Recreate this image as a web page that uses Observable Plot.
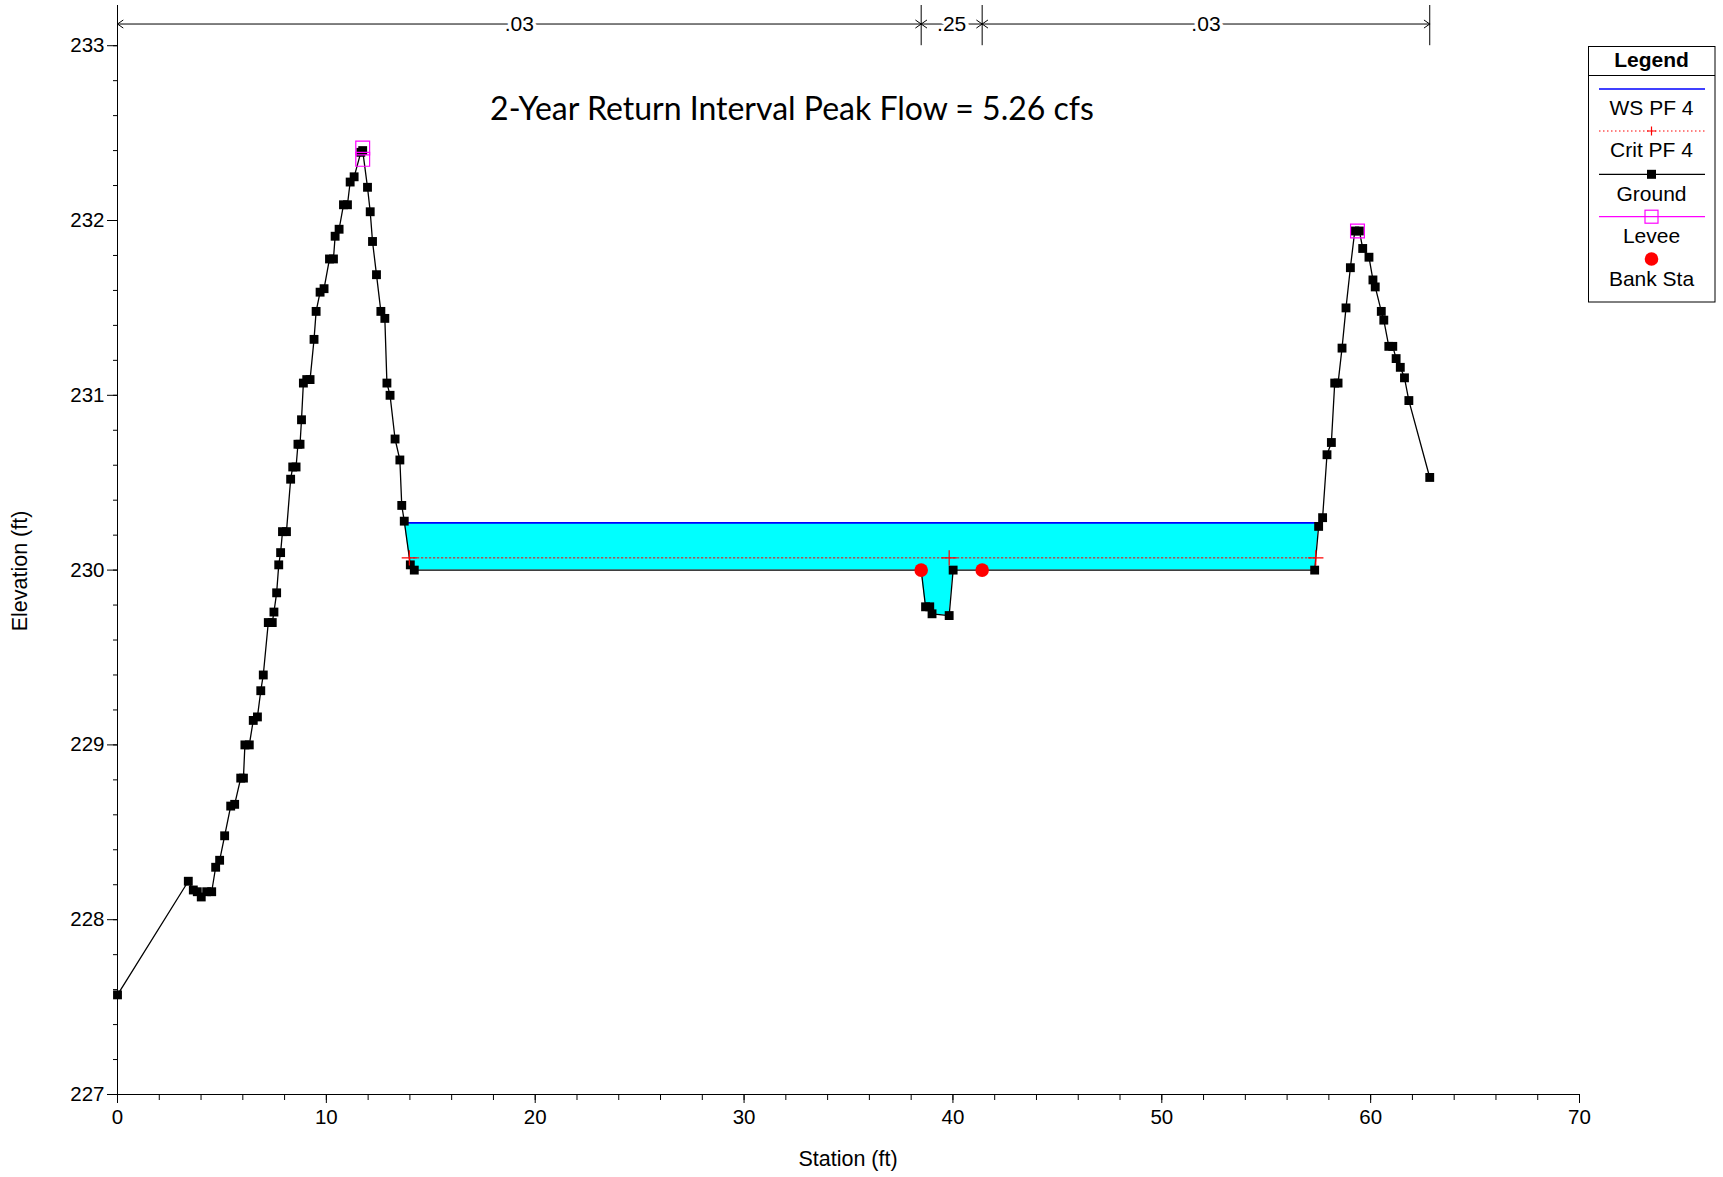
<!DOCTYPE html>
<html><head><meta charset="utf-8">
<script src="https://cdn.jsdelivr.net/npm/d3@7"></script>
<script src="https://cdn.jsdelivr.net/npm/@observablehq/plot@0.6"></script>
<style>
body{margin:0;background:#fff;}
#wrap{position:relative;width:1723px;height:1177px;font-family:"Liberation Sans",Arial,sans-serif;color:#000;overflow:hidden;}
#wrap svg{display:block;}
.abs{position:absolute;white-space:nowrap;}
#title{font-family:Lato,"Open Sans",sans-serif;font-size:32px;left:792px;top:107px;transform:translate(-50%,-50%);}
#xlab{font-size:21.5px;left:848px;top:1159px;transform:translate(-50%,-50%);}
#ylab{font-size:21.5px;left:20px;top:571px;transform:translate(-50%,-50%) rotate(-90deg);}
#legend{left:1588px;top:46px;}
</style></head><body><div id="wrap">
<div id="plot"></div>
<div class="abs" id="title">2-Year Return Interval Peak Flow = 5.26 cfs</div>
<div class="abs" id="xlab">Station (ft)</div>
<div class="abs" id="ylab">Elevation (ft)</div>
<div class="abs" id="legend"></div>
</div>
<script>
// ---- data ----
const groundStation = [0.00, 3.39, 3.63, 3.82, 4.01, 4.27, 4.51, 4.70, 4.89, 5.13, 5.42, 5.61, 5.90, 6.03, 6.10, 6.31, 6.50, 6.70, 6.86, 6.98, 7.22, 7.41, 7.49, 7.62, 7.72, 7.81, 7.90, 8.09, 8.29, 8.39, 8.55, 8.64, 8.74, 8.81, 8.90, 9.06, 9.22, 9.41, 9.51, 9.70, 9.89, 10.15, 10.34, 10.42, 10.61, 10.82, 11.01, 11.14, 11.33, 11.65, 11.74, 11.97, 12.10, 12.21, 12.40, 12.61, 12.80, 12.90, 13.05, 13.29, 13.52, 13.61, 13.73, 14.02, 14.21, 38.48, 38.69, 38.89, 39.00, 39.82, 40.01, 57.32, 57.51, 57.70, 57.91, 58.12, 58.28, 58.44, 58.63, 58.82, 59.03, 59.24, 59.46, 59.62, 59.92, 60.11, 60.22, 60.51, 60.63, 60.87, 61.06, 61.22, 61.42, 61.62, 61.83, 62.83];
const groundElev = [227.57, 228.22, 228.17, 228.16, 228.13, 228.16, 228.16, 228.30, 228.34, 228.48, 228.65, 228.66, 228.81, 228.81, 229.00, 229.00, 229.14, 229.16, 229.31, 229.40, 229.70, 229.70, 229.76, 229.87, 230.03, 230.10, 230.22, 230.22, 230.52, 230.59, 230.59, 230.72, 230.72, 230.86, 231.07, 231.09, 231.09, 231.32, 231.48, 231.59, 231.61, 231.78, 231.78, 231.91, 231.95, 232.09, 232.09, 232.22, 232.25, 232.39, 232.40, 232.19, 232.05, 231.88, 231.69, 231.48, 231.44, 231.07, 231.00, 230.75, 230.63, 230.37, 230.28, 230.03, 230.00, 230.00, 229.79, 229.79, 229.75, 229.74, 230.00, 230.00, 230.25, 230.30, 230.66, 230.73, 231.07, 231.07, 231.27, 231.50, 231.73, 231.94, 231.94, 231.84, 231.79, 231.66, 231.62, 231.48, 231.43, 231.28, 231.28, 231.21, 231.16, 231.10, 230.97, 230.53];
const wsElev = 230.27;      // WS PF 4
const critElev = 230.07;    // Crit PF 4
const bankStation = [38.48, 41.40];
const leveeStation = [11.74, 11.74, 59.37];
const leveeElev = [232.415, 232.35, 231.94];
const nBreaks = [0, 38.48, 41.40, 62.83];
const nValues = [".03", ".25", ".03"];
const nLabelElev = 233.124;
const xTicks = [0, 10, 20, 30, 40, 50, 60, 70];
const yTicks = [227, 228, 229, 230, 231, 232, 233];
const xMinorTicks = d3.range(0, 70.001, 2);
const yMinorTicks = d3.range(227, 233.001, 0.2);
const xDomain = [0, 70];
const yDomain = [227, 233.23];

// ---- derived ----
const ground = groundStation.map((x, i) => ({x, y: groundElev[i]}));
const interp = x => {
  for (let i = 0; i < ground.length - 1; i++) {
    const a = ground[i], b = ground[i + 1];
    if (x >= a.x && x <= b.x) return a.y + (x - a.x) / (b.x - a.x) * (b.y - a.y);
  }
  return ground[ground.length - 1].y;
};
let iMin = -1;
ground.forEach((p, i) => {
  if (p.x >= bankStation[0] && p.x <= bankStation[1] && (iMin < 0 || p.y < ground[iMin].y)) iMin = i;
});
function wetRange(level) {
  let L = iMin; while (L > 0 && ground[L - 1].y <= level) L--;
  let R = iMin; while (R < ground.length - 1 && ground[R + 1].y <= level) R++;
  const a = ground[L - 1], b = ground[L];
  const xl = a.x + (level - a.y) / (b.y - a.y) * (b.x - a.x);
  const c = ground[R], d = ground[R + 1];
  const xr = c.x + (level - c.y) / (d.y - c.y) * (d.x - c.x);
  return {xl, xr, inner: ground.slice(L, R + 1)};
}
const ws = wetRange(wsElev);
const fillData = [{x: ws.xl, y: wsElev}, ...ws.inner, {x: ws.xr, y: wsElev}];
const cr = wetRange(critElev);
const critLine = [{x: cr.xl, y: critElev}, {x: cr.xr, y: critElev}];
const critMarks = [{x: cr.xl, y: critElev}, {x: ground[iMin].x, y: critElev}, {x: cr.xr, y: critElev}];
const banks = bankStation.map(x => ({x, y: interp(x)}));
const levees = leveeStation.map((x, i) => ({x, y: leveeElev[i]}));
const nSegs = nValues.map((t, i) => ({x1: nBreaks[i], x2: nBreaks[i + 1], mid: (nBreaks[i] + nBreaks[i + 1]) / 2, t}));
const nArrows = nSegs.flatMap(s => [{x1: s.mid, x2: s.x1}, {x1: s.mid, x2: s.x2}]);

const chart = Plot.plot({
  width: 1723, height: 1177,
  marginLeft: 117, marginRight: 144, marginTop: 5, marginBottom: 83,
  x: {domain: xDomain},
  y: {domain: yDomain},
  style: {fontFamily: "Liberation Sans, Arial, sans-serif", fontSize: "20px", background: "white", color: "black"},
  marks: [
    Plot.areaY(fillData, {x: "x", y1: "y", y2: wsElev, fill: "#00ffff"}),
    Plot.line(critLine, {x: "x", y: "y", stroke: "#ff0000", strokeWidth: 1, strokeDasharray: "1.5,2.5"}),
    Plot.line([{x: ws.xl, y: wsElev}, {x: ws.xr, y: wsElev}], {x: "x", y: "y", stroke: "#0000ff", strokeWidth: 1.6}),
    Plot.line(ground, {x: "x", y: "y", stroke: "black", strokeWidth: 1.3}),
    Plot.dot(ground, {x: "x", y: "y", symbol: "square", r: 5, fill: "black", stroke: "none"}),
    Plot.dot(critMarks, {x: "x", y: "y", symbol: "plus", r: 5, stroke: "#ff0000", strokeWidth: 1.2}),
    Plot.dot(levees, {x: "x", y: "y", symbol: "square", r: 7.8, stroke: "#ff00ff", fill: "none", strokeWidth: 1.2}),
    Plot.dot(banks, {x: "x", y: "y", r: 6.8, fill: "#ff0000", stroke: "none"}),
    // n-value annotations
    Plot.ruleX(nBreaks, {y1: 233.0, y2: yDomain[1], stroke: "black", strokeWidth: 1}),
    Plot.arrow(nArrows, {x1: "x1", x2: "x2", y1: nLabelElev, y2: nLabelElev, stroke: "black", strokeWidth: 1, headLength: 10, headAngle: 70, bend: 0}),
    Plot.text(nSegs, {x: "mid", y: nLabelElev, text: "t", fill: "black", stroke: "white", strokeWidth: 7, fontSize: 21}),
    // axes
    Plot.axisX({ticks: xMinorTicks, tickSize: 6, tickFormat: () => "", label: null}),
    Plot.axisX({ticks: xTicks, tickSize: 9, tickPadding: 6, label: null, fontSize: 20.5, tickFormat: d => d.toFixed(0)}),
    Plot.axisY({ticks: yMinorTicks, tickSize: 4, tickFormat: () => "", label: null}),
    Plot.axisY({ticks: yTicks, tickSize: 10, tickPadding: 3, label: null, fontSize: 20.5, tickFormat: d => d.toFixed(0)}),
    Plot.ruleY([yDomain[0]], {stroke: "black"}),
    Plot.ruleX([xDomain[0]], {y1: yDomain[0], y2: yDomain[1], stroke: "black"})
  ]
});
document.getElementById("plot").appendChild(chart);

// ---- legend ----
const legendItems = ["WS PF 4", "Crit PF 4", "Ground", "Levee", "Bank Sta"];
const lg = d3.select("#legend").append("svg").attr("width", 128).attr("height", 257)
  .style("font-family", "Liberation Sans, Arial, sans-serif");
lg.append("rect").attr("x", 0.5).attr("y", 0.5).attr("width", 126.5).attr("height", 255.5).attr("fill", "white").attr("stroke", "black");
lg.append("line").attr("x1", 0).attr("x2", 127).attr("y1", 29.5).attr("y2", 29.5).attr("stroke", "black");
lg.append("text").attr("x", 63.5).attr("y", 14).attr("dy", "0.35em").attr("text-anchor", "middle").attr("font-weight", "bold").attr("font-size", 21).text("Legend");
const symY = [43, 85, 128.3, 170.7, 213];
const txtY = [61.7, 104, 147.3, 190, 232.3];
legendItems.forEach((t, i) => {
  lg.append("text").attr("x", 63.5).attr("y", txtY[i]).attr("dy", "0.35em").attr("text-anchor", "middle").attr("font-size", 21).text(t);
});
lg.append("line").attr("x1", 11).attr("x2", 117).attr("y1", symY[0]).attr("y2", symY[0]).attr("stroke", "#0000ff").attr("stroke-width", 1.6);
lg.append("line").attr("x1", 11).attr("x2", 117).attr("y1", symY[1]).attr("y2", symY[1]).attr("stroke", "#ff0000").attr("stroke-dasharray", "1.5,2.5");
lg.append("path").attr("d", `M${63.5-4.5},${symY[1]}h9M63.5,${symY[1]-4.5}v9`).attr("stroke", "#ff0000").attr("stroke-width", 1.2);
lg.append("line").attr("x1", 11).attr("x2", 117).attr("y1", symY[2]).attr("y2", symY[2]).attr("stroke", "black").attr("stroke-width", 1.3);
lg.append("rect").attr("x", 63.5-4.5).attr("y", symY[2]-4.5).attr("width", 9).attr("height", 9).attr("fill", "black");
lg.append("line").attr("x1", 11).attr("x2", 117).attr("y1", symY[3]).attr("y2", symY[3]).attr("stroke", "#ff00ff").attr("stroke-width", 1.2);
lg.append("rect").attr("x", 63.5-6.5).attr("y", symY[3]-6.5).attr("width", 13).attr("height", 13).attr("fill", "none").attr("stroke", "#ff00ff").attr("stroke-width", 1.2);
lg.append("circle").attr("cx", 63.5).attr("cy", symY[4]).attr("r", 6.8).attr("fill", "#ff0000");
</script>
</body></html>
